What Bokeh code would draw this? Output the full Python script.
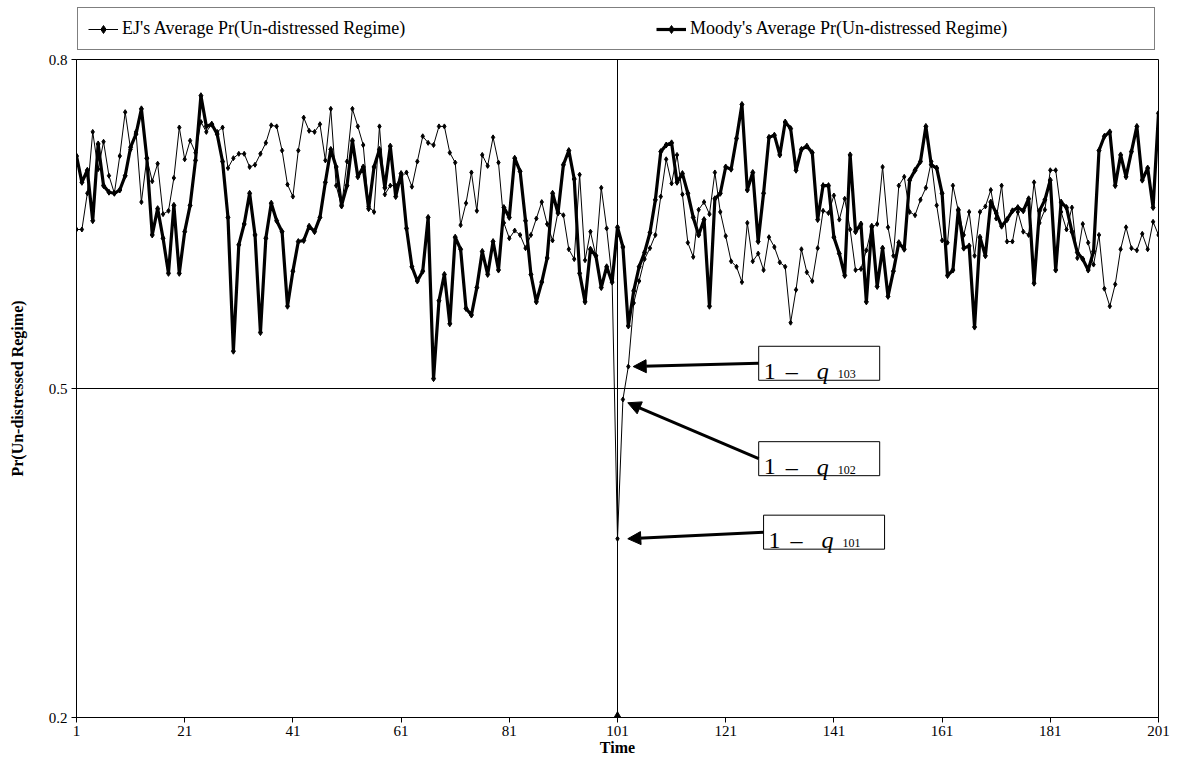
from bokeh.plotting import figure
from bokeh.layouts import column
from bokeh.models import Legend, LegendItem, Span, Arrow, NormalHead, FixedTicker
from bokeh.core.properties import value
from bokeh.embed import file_html
from bokeh.resources import INLINE

# ---------------- data ----------------
time = list(range(1, 202))

ej = [0.645, 0.645, 0.678, 0.734, 0.700, 0.725, 0.694, 0.678, 0.712, 0.752,
      0.718, 0.734, 0.670, 0.710, 0.689, 0.705, 0.659, 0.662, 0.692, 0.738,
      0.709, 0.726, 0.715, 0.743, 0.734, 0.741, 0.734, 0.738, 0.701, 0.710,
      0.714, 0.714, 0.702, 0.704, 0.714, 0.724, 0.740, 0.739, 0.717, 0.686,
      0.675, 0.717, 0.747, 0.735, 0.734, 0.741, 0.708, 0.755, 0.685, 0.666,
      0.707, 0.755, 0.739, 0.722, 0.666, 0.661, 0.739, 0.677, 0.685, 0.685,
      0.693, 0.697, 0.684, 0.707, 0.730, 0.724, 0.722, 0.739, 0.739, 0.715,
      0.706, 0.649, 0.669, 0.697, 0.662, 0.713, 0.703, 0.729, 0.706, 0.651,
      0.637, 0.644, 0.640, 0.628, 0.640, 0.655, 0.670, 0.650, 0.635, 0.661,
      0.658, 0.627, 0.618, 0.695, 0.617, 0.643, 0.621, 0.683, 0.646, 0.600,
      0.363, 0.490, 0.520, 0.578, 0.598, 0.618, 0.628, 0.640, 0.675, 0.709,
      0.687, 0.713, 0.677, 0.633, 0.620, 0.663, 0.670, 0.659, 0.697, 0.661,
      0.639, 0.616, 0.611, 0.597, 0.651, 0.616, 0.623, 0.608, 0.638, 0.629,
      0.615, 0.611, 0.560, 0.590, 0.627, 0.606, 0.598, 0.628, 0.662, 0.660,
      0.676, 0.654, 0.673, 0.645, 0.608, 0.609, 0.626, 0.647, 0.650, 0.702,
      0.647, 0.621, 0.685, 0.693, 0.661, 0.658, 0.672, 0.683, 0.707, 0.667,
      0.635, 0.633, 0.685, 0.662, 0.640, 0.661, 0.621, 0.661, 0.666, 0.681,
      0.655, 0.685, 0.634, 0.634, 0.661, 0.643, 0.640, 0.688, 0.651, 0.663,
      0.699, 0.699, 0.661, 0.645, 0.665, 0.619, 0.650, 0.633, 0.613, 0.640,
      0.591, 0.575, 0.595, 0.627, 0.647, 0.628, 0.626, 0.641, 0.627, 0.652,
      0.640]

moody = [0.712, 0.688, 0.699, 0.653, 0.723, 0.685, 0.679, 0.678, 0.681, 0.694,
         0.720, 0.732, 0.755, 0.710, 0.640, 0.664, 0.637, 0.605, 0.667, 0.605,
         0.643, 0.667, 0.708, 0.767, 0.739, 0.741, 0.732, 0.707, 0.656, 0.534,
         0.631, 0.650, 0.678, 0.640, 0.551, 0.637, 0.669, 0.653, 0.643, 0.575,
         0.607, 0.634, 0.635, 0.648, 0.643, 0.656, 0.688, 0.718, 0.702, 0.667,
         0.685, 0.726, 0.693, 0.702, 0.664, 0.702, 0.718, 0.683, 0.721, 0.675,
         0.696, 0.646, 0.611, 0.598, 0.607, 0.656, 0.509, 0.580, 0.604, 0.559,
         0.638, 0.627, 0.573, 0.567, 0.592, 0.625, 0.604, 0.634, 0.608, 0.665,
         0.656, 0.710, 0.698, 0.653, 0.604, 0.579, 0.597, 0.619, 0.678, 0.660,
         0.704, 0.717, 0.691, 0.605, 0.579, 0.627, 0.621, 0.592, 0.611, 0.597,
         0.647, 0.629, 0.557, 0.589, 0.611, 0.624, 0.642, 0.672, 0.716, 0.722,
         0.724, 0.688, 0.696, 0.678, 0.656, 0.640, 0.654, 0.575, 0.673, 0.678,
         0.702, 0.700, 0.728, 0.759, 0.681, 0.697, 0.634, 0.678, 0.729, 0.731,
         0.713, 0.743, 0.737, 0.699, 0.718, 0.721, 0.715, 0.654, 0.685, 0.685,
         0.638, 0.623, 0.603, 0.713, 0.643, 0.650, 0.579, 0.648, 0.593, 0.628,
         0.584, 0.607, 0.633, 0.627, 0.690, 0.699, 0.707, 0.739, 0.704, 0.701,
         0.678, 0.603, 0.608, 0.663, 0.628, 0.630, 0.556, 0.638, 0.621, 0.670,
         0.660, 0.648, 0.654, 0.662, 0.665, 0.662, 0.673, 0.596, 0.662, 0.672,
         0.690, 0.608, 0.670, 0.665, 0.643, 0.624, 0.618, 0.608, 0.625, 0.717,
         0.730, 0.734, 0.685, 0.713, 0.693, 0.716, 0.739, 0.690, 0.701, 0.665,
         0.751]

series_names = ["EJ's Average Pr(Un-distressed Regime)",
                "Moody's Average Pr(Un-distressed Regime)"]

x_ticks = [1, 21, 41, 61, 81, 101, 121, 141, 161, 181, 201]
y_ticks = [0.2, 0.5, 0.8]
event_time = 101

# annotation boxes: label subscript, box left (time units), box centre (probability)
ann_sub = ["103", "102", "101"]
ann_left = [127.1, 127.1, 128.0]
ann_y = [0.523, 0.436, 0.369]
# arrow tips
tip_x = [103.9, 102.9, 102.9]
tip_y = [0.520, 0.487, 0.363]

FONT = "Liberation Serif"
EJ_STYLE = dict(line_width=1, size=5)
MO_STYLE = dict(line_width=3.2, size=6)

# ---------------- main chart ----------------
p = figure(width=1177, height=706, output_backend="svg", toolbar_location=None,
           x_range=(1, 201), y_range=(0.2, 0.8),
           min_border_left=76, min_border_right=19, min_border_top=7,
           min_border_bottom=38, background_fill_color="white",
           border_fill_color="white")

p.outline_line_color = "black"
p.outline_line_width = 1

p.add_layout(Span(location=event_time, dimension="height", line_color="black", line_width=1))
p.xgrid.visible = False
p.ygrid.ticker = FixedTicker(ticks=[0.5])
p.ygrid.grid_line_color = "black"
p.ygrid.grid_line_width = 1

p.line(time, ej, line_color="black", line_width=EJ_STYLE["line_width"])
p.scatter(time, ej, marker="diamond", size=EJ_STYLE["size"], color="black")
p.line(time, moody, line_color="black", line_width=MO_STYLE["line_width"])
p.scatter(time, moody, marker="diamond", size=MO_STYLE["size"], color="black")

p.scatter([event_time], [y_ticks[0]], marker="triangle", size=10, color="black")

for ax in (p.xaxis[0], p.yaxis[0]):
    ax.axis_line_color = "black"
    ax.major_tick_line_color = "black"
    ax.minor_tick_line_color = None
    ax.major_tick_in = 0
    ax.major_tick_out = 5
    ax.major_label_text_font = FONT
    ax.major_label_text_font_size = "15px"
    ax.major_label_text_color = "black"
    ax.axis_label_text_font = FONT
    ax.axis_label_text_font_size = "16px"
    ax.axis_label_text_font_style = "bold"
    ax.axis_label_text_color = "black"

p.xaxis.ticker = FixedTicker(ticks=x_ticks)
p.yaxis.ticker = FixedTicker(ticks=y_ticks)
p.xaxis.axis_label = "Time"
p.yaxis.axis_label = "Pr(Un-distressed Regime)"
p.xaxis.major_label_standoff = 3
p.xaxis.axis_label_standoff = 0
p.yaxis.major_label_standoff = 4
p.yaxis.axis_label_standoff = 20

# annotations: boxes, arrows and texts
px_per_unit = 1082 / 200.0
half_w = 60.5 / px_per_unit
box_cx = [l + half_w for l in ann_left]
p.rect(box_cx, ann_y, width=121, height=34, width_units="screen", height_units="screen",
       fill_color="white", line_color="black", line_width=1)

for i in range(3):
    p.add_layout(Arrow(end=NormalHead(size=13, fill_color="black", line_color="black"),
                       x_start=ann_left[i], y_start=ann_y[i], x_end=tip_x[i], y_end=tip_y[i],
                       line_color="black", line_width=3))

p.text(ann_left, ann_y, text=["1"] * 3, x_offset=5, y_offset=8,
       text_font=value(FONT), text_font_size="24px", text_baseline="alphabetic",
       text_align="left", text_color="black")
p.text(ann_left, ann_y, text=["\u2013"] * 3, x_offset=27, y_offset=8,
       text_font=value(FONT), text_font_size="24px", text_baseline="alphabetic",
       text_align="left", text_color="black")
p.text(ann_left, ann_y, text=["q"] * 3, x_offset=58, y_offset=8,
       text_font=value(FONT), text_font_size="24px", text_font_style="italic",
       text_baseline="alphabetic", text_align="left", text_color="black")
p.text(ann_left, ann_y, text=ann_sub, x_offset=79, y_offset=11,
       text_font=value(FONT), text_font_size="12px", text_baseline="alphabetic",
       text_align="left", text_color="black")

# ---------------- legend strip above the chart ----------------
# same series drawn out of view, only so the legend can show their styles
top = figure(width=1177, height=52, output_backend="svg", toolbar_location=None,
             x_range=(1, 201), y_range=(10, 11), min_border=0,
             min_border_left=76, min_border_right=19,
             background_fill_color="white", border_fill_color="white")
top.axis.visible = False
top.grid.visible = False
top.outline_line_color = None

k_ej_l = top.line(time, ej, line_color="black", line_width=EJ_STYLE["line_width"])
k_ej_m = top.scatter(time, ej, marker="diamond", size=EJ_STYLE["size"], color="black")
k_mo_l = top.line(time, moody, line_color="black", line_width=MO_STYLE["line_width"])
k_mo_m = top.scatter(time, moody, marker="diamond", size=MO_STYLE["size"], color="black")

legend = Legend(items=[
    LegendItem(label=series_names[0], renderers=[k_ej_l, k_ej_m]),
    LegendItem(label=series_names[1], renderers=[k_mo_l, k_mo_m]),
], orientation="horizontal", location=(1, 2))
legend.label_text_font = FONT
legend.label_text_font_size = "18px"
legend.label_text_color = "black"
legend.glyph_width = 30
legend.glyph_height = 20
legend.label_height = 20
legend.label_standoff = 4
legend.label_width = 454
legend.spacing = 80
legend.padding = 10
legend.margin = 0
legend.border_line_color = "black"
legend.border_line_width = 1
legend.background_fill_color = "white"
legend.background_fill_alpha = 1
top.add_layout(legend, "center")

layout = column(top, p, spacing=0)
open("out.html", "w").write(file_html(layout, INLINE))
